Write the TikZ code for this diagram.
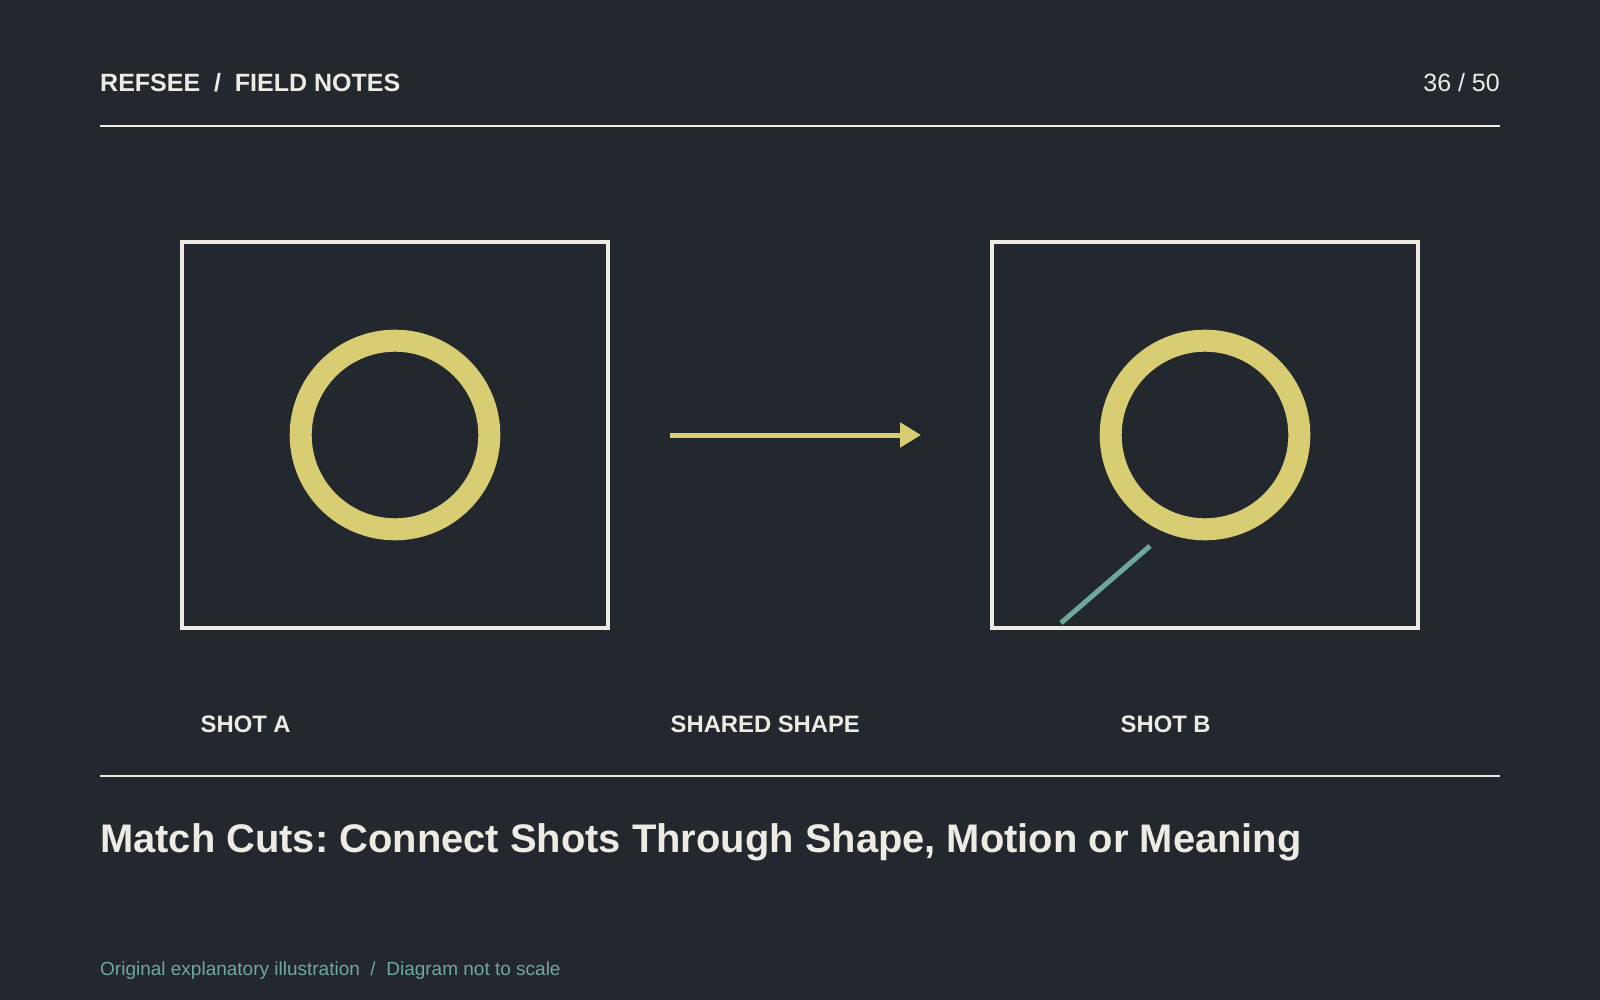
\documentclass[tikz,border=0pt]{standalone}
\usepackage{fontspec}
\setmainfont{Liberation Sans}
\usetikzlibrary{arrows.meta}
\frenchspacing
\definecolor{bgc}{HTML}{23282F}
\definecolor{ink}{HTML}{ECECE4}
\definecolor{ochre}{HTML}{D8CD72}
\definecolor{teal}{HTML}{6FA89A}
\tikzset{
  txt/.style={inner sep=0pt, anchor=base west, text=ink},
  frame/.style={draw=ink, line width=4pt, minimum width=426pt, minimum height=386pt, inner sep=0pt},
  ring/.style={draw=ochre, line width=22pt, circle, minimum size=188.6pt, inner sep=0pt},
  rule/.style={draw=ink, line width=2pt},
  lab/.style={txt, font=\bfseries\fontsize{23.8}{28}\selectfont},
}
\begin{document}
\begin{tikzpicture}[x=1pt, y=-1pt]
\fill[bgc] (0,0) rectangle (1600,1000);
\useasboundingbox (0,0) rectangle (1600,1000);
% header
\node[txt, font=\bfseries\fontsize{25}{30}\selectfont] (hdr) at (100,91.3) {REFSEE \ / \ FIELD NOTES};
\node[txt, anchor=base east, font=\fontsize{25}{30}\selectfont] (page) at (1500,91.3) {36 / 50};
\coordinate (r1a) at (100,126);
\coordinate (r1b) at (1500,126);
\draw[rule] (r1a) -- (r1b);
% frames
\node[frame] (shotA) at (395,435) {};
\node[frame] (shotB) at (1205,435) {};
\node[ring] (ringA) at (395,435) {};
\node[ring] (ringB) at (1205,435) {};
% arrow
\coordinate (arrS) at (670,435);
\coordinate (arrE) at (921,435);
\draw[ochre, line width=5pt, -{Triangle[length=21pt,width=24pt]}] (arrS) -- (arrE);
% teal line
\coordinate (tS) at (1061,623);
\coordinate (tE) at (1150,546);
\draw[teal, line width=5pt] (tS) -- (tE);
% labels
\node[lab] (labA) at (200.5,732.3) {SHOT A};
\node[lab] (labS) at (670.5,732.3) {SHARED SHAPE};
\node[lab] (labB) at (1120.5,732.3) {SHOT B};
\coordinate (r2a) at (100,776);
\coordinate (r2b) at (1500,776);
\draw[rule] (r2a) -- (r2b);
% title
\node[txt, font=\bfseries\fontsize{39.9}{48}\selectfont] (title) at (100,852.3) {Match Cuts: Connect Shots Through Shape, Motion or Meaning};
% footer
\node[txt, text=teal, font=\fontsize{19}{22}\selectfont] (foot) at (100,975) {Original explanatory illustration \ / \ Diagram not to scale};
\end{tikzpicture}
\end{document}
